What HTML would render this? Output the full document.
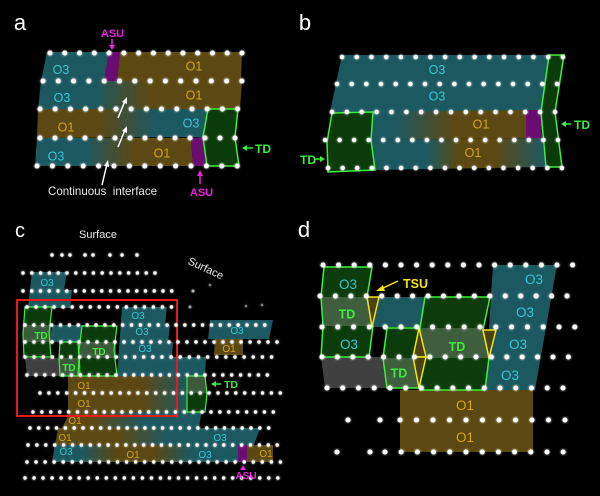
<!DOCTYPE html>
<html><head><meta charset="utf-8"><style>
html,body{margin:0;padding:0;background:#000;}
svg{display:block;}
text{font-family:"Liberation Sans",Arial,sans-serif;}
.o3{fill:#38c4d6;}
.o1{fill:#d6a31c;}
.td{fill:#3ded3d;font-weight:bold;}
.asu{fill:#f022e0;font-weight:bold;}
</style></head><body>
<svg width="600" height="496" viewBox="0 0 600 496" xmlns="http://www.w3.org/2000/svg">
<defs>
<filter id="glow" x="-20%" y="-200%" width="140%" height="500%">
<feGaussianBlur stdDeviation="1" result="b"/>
<feMerge><feMergeNode in="b"/><feMergeNode in="SourceGraphic"/></feMerge>
</filter>
<linearGradient id="ga2" gradientUnits="userSpaceOnUse" x1="95" y1="0" x2="150" y2="0"><stop offset="0" stop-color="#1c5860"/><stop offset="1" stop-color="#5c4812"/></linearGradient>
<linearGradient id="ga3" gradientUnits="userSpaceOnUse" x1="100" y1="0" x2="155" y2="0"><stop offset="0" stop-color="#5c4812"/><stop offset="1" stop-color="#1c5860"/></linearGradient>
<linearGradient id="ga4" gradientUnits="userSpaceOnUse" x1="85" y1="0" x2="135" y2="0"><stop offset="0" stop-color="#1c5860"/><stop offset="1" stop-color="#5c4812"/></linearGradient>
<linearGradient id="gb3" gradientUnits="userSpaceOnUse" x1="395" y1="0" x2="455" y2="0"><stop offset="0" stop-color="#1c5860"/><stop offset="1" stop-color="#5c4812"/></linearGradient>
<linearGradient id="gb4" gradientUnits="userSpaceOnUse" x1="375" y1="0" x2="545" y2="0"><stop offset="0" stop-color="#1c5860"/><stop offset="0.3" stop-color="#1c5860"/><stop offset="0.5" stop-color="#5c4812"/><stop offset="0.7" stop-color="#5c4812"/><stop offset="1" stop-color="#1c5860"/></linearGradient>
<linearGradient id="gco" gradientUnits="userSpaceOnUse" x1="68" y1="0" x2="200" y2="0"><stop offset="0" stop-color="#5c4812"/><stop offset="0.55" stop-color="#5c4812"/><stop offset="0.9" stop-color="#1c5860"/></linearGradient>
<linearGradient id="gc9" gradientUnits="userSpaceOnUse" x1="62" y1="0" x2="200" y2="0"><stop offset="0" stop-color="#5c4812"/><stop offset="0.2" stop-color="#5c4812"/><stop offset="0.6" stop-color="#1c5860"/></linearGradient>
<linearGradient id="gc10" gradientUnits="userSpaceOnUse" x1="55" y1="0" x2="260" y2="0"><stop offset="0" stop-color="#5c4812"/><stop offset="0.3" stop-color="#5c4812"/><stop offset="0.55" stop-color="#1c5860"/></linearGradient>
<linearGradient id="gc11" gradientUnits="userSpaceOnUse" x1="52" y1="0" x2="238" y2="0"><stop offset="0" stop-color="#1c5860"/><stop offset="0.15" stop-color="#1c5860"/><stop offset="0.35" stop-color="#5c4812"/><stop offset="0.55" stop-color="#5c4812"/><stop offset="0.75" stop-color="#1c5860"/><stop offset="1" stop-color="#1c5860"/></linearGradient>
</defs>
<rect width="600" height="496" fill="#000"/>

<!-- ============ PANEL A ============ -->
<polygon points="47,52 109,52 104,81 41,81" fill="#1c5860"/>
<polygon points="109,52 120,52 117,81 104,81" fill="#6a0c72"/>
<polygon points="120,52 242,52 241,81 117,81" fill="#5c4812"/>
<polygon points="41,81 242,81 240,109 38,109" fill="url(#ga2)"/>
<polygon points="38,109 208,109 203,137 37,138" fill="url(#ga3)"/>
<polygon points="37,138 191,138 193,166 35,166" fill="url(#ga4)"/>
<polygon points="191,138 203,137 207,166 193,166" fill="#6a0c72"/>
<polygon points="208,109 238,109 235,137 239,166 207,166 203,137" fill="#0b3b0b" stroke="#3cf03c" stroke-width="1.5"/>
<g stroke="#fff" stroke-linecap="round" stroke-width="5" fill="none" filter="url(#glow)">
<path d="M50 53 H242.5" stroke-dasharray="0 14.77"/>
<path d="M43 81 H242.4" stroke-dasharray="0 15.3"/>
<path d="M40 109 H238" stroke-dasharray="0 15.2"/>
<path d="M40 138 H235.5" stroke-dasharray="0 15"/>
<path d="M37 166 H237.5" stroke-dasharray="0 15.4"/>
</g>
<text x="20" y="30" font-size="22" fill="#fff" text-anchor="middle">a</text>
<g font-size="12.5" text-anchor="middle">
<text class="o3" x="61" y="74">O3</text>
<text class="o1" x="194" y="70.5">O1</text>
<text class="o3" x="62" y="102">O3</text>
<text class="o1" x="194" y="99.5">O1</text>
<text class="o1" x="66" y="131.5">O1</text>
<text class="o3" x="191" y="127.5">O3</text>
<text class="o3" x="56" y="160.5">O3</text>
<text class="o1" x="162" y="157.5">O1</text>
</g>
<text class="asu" x="112.5" y="37" font-size="11" text-anchor="middle">ASU</text>
<line x1="112" y1="39" x2="112" y2="46" stroke="#f022e0" stroke-width="1.5"/>
<polygon points="109,45 115,45 112,50" fill="#f022e0"/>
<text class="asu" x="201.5" y="196" font-size="11" text-anchor="middle">ASU</text>
<line x1="200" y1="184" x2="200" y2="175" stroke="#f022e0" stroke-width="1.5"/>
<polygon points="197,176 203,176 200,170" fill="#f022e0"/>
<line x1="253" y1="148" x2="246" y2="148" stroke="#3ded3d" stroke-width="1.5"/>
<polygon points="247,145 247,151 242,148" fill="#3ded3d"/>
<text class="td" x="255" y="153" font-size="12">TD</text>
<g stroke="#fff" stroke-width="1.5">
<line x1="118" y1="118" x2="125" y2="101"/>
<line x1="118" y1="147" x2="125" y2="130"/>
<line x1="102" y1="185" x2="107" y2="164"/>
</g>
<g fill="#fff">
<polygon points="127,97 122,102 127,104"/>
<polygon points="127,126 122,131 127,133"/>
<polygon points="108,160 104,166 109,167"/>
</g>
<text x="48" y="195" font-size="12" fill="#e8e8e8" textLength="109" lengthAdjust="spacingAndGlyphs" xml:space="preserve">Continuous  interface</text>

<!-- ============ PANEL B ============ -->
<polygon points="342,55 549,55 541,112 330,112" fill="#1c5860"/>
<polygon points="373,112 526,110 526,138 371,140" fill="url(#gb3)"/>
<polygon points="526,110 541,110 542,138 526,138" fill="#6a0c72"/>
<polygon points="371,140 542,138 546,167 375,170" fill="url(#gb4)"/>
<polygon points="332,113 373,112 371,140 375,170 328,172 327,142" fill="#0b3b0b" stroke="#3cf03c" stroke-width="1.5"/>
<polygon points="549,55 564,55 555,112 562,167 546,167 541,112" fill="#0b3b0b" stroke="#3cf03c" stroke-width="1.5"/>
<g stroke="#fff" stroke-linecap="round" stroke-width="4.5" fill="none" filter="url(#glow)">
<path d="M342 57 H563.5" stroke-dasharray="0 14.73"/>
<path d="M337 84 H557.5" stroke-dasharray="0 14.67"/>
<path d="M332 112 H555.5" stroke-dasharray="0 14.87"/>
<path d="M325 140 H558.5" stroke-dasharray="0 14.56"/>
<path d="M328 168 H562.5" stroke-dasharray="0 14.62"/>
</g>
<text x="305" y="30" font-size="22" fill="#fff" text-anchor="middle">b</text>
<g font-size="12.5" text-anchor="middle">
<text class="o3" x="437" y="74">O3</text>
<text class="o3" x="437" y="100.5">O3</text>
<text class="o1" x="481" y="128.5">O1</text>
<text class="o1" x="473" y="157">O1</text>
</g>
<line x1="571" y1="124" x2="565" y2="124" stroke="#3ded3d" stroke-width="1.5"/>
<polygon points="566,121 566,127 561,124" fill="#3ded3d"/>
<text class="td" x="574" y="129" font-size="12">TD</text>
<text class="td" x="300" y="164" font-size="12">TD</text>
<line x1="315" y1="159" x2="321" y2="159" stroke="#3ded3d" stroke-width="1.5"/>
<polygon points="320,156 320,162 325,159" fill="#3ded3d"/>

<!-- ============ PANEL C ============ -->
<polygon points="32,272 67,272 64,290 72,290 70,308 28,308 30,290" fill="#1c5860"/>
<polygon points="122,307 167,307 165,325 170,325 168,342 173,342 172,357 206,357 204,395 199,428 70,428 68,376 117,376" fill="#1c5860"/>
<polygon points="52,325 84,325 82,342 50,342" fill="#1c5860"/>
<polygon points="68,376 200,376 200,412 68,412" fill="url(#gco)"/>
<polygon points="70,412 200,412 198,428 62,428" fill="url(#gc9)"/>
<polygon points="58,428 260,428 254,445 55,445" fill="url(#gc10)"/>
<polygon points="55,445 238,445 238,462 52,462" fill="url(#gc11)"/>
<polygon points="238,445 247,445 247,462 238,462" fill="#6a0c72"/>
<polygon points="247,445 273,445 273,462 247,462" fill="#5c4812"/>
<polygon points="210,320 273,320 269,339 208,339" fill="#1c5860"/>
<polygon points="215,339 243,339 243,355 214,355" fill="#5c4812"/>
<polygon points="25,358 60,358 60,376 27,376" fill="#404040"/>
<!-- TDs -->
<polygon points="25,307 52,307 49,333 51,357 24,357 23,333" fill="#0b3b0b"/>
<rect x="23" y="325" width="28" height="17" fill="#3a5a3a"/>
<polygon points="25,307 52,307 49,333 51,357 24,357 23,333" fill="none" stroke="#3cf03c" stroke-width="1.2"/>
<polygon points="60,342 78,342 79,358 78,376 60,376 59,358" fill="#0b3b0b"/>
<rect x="59" y="358" width="20" height="18" fill="#3a5a3a"/>
<polygon points="60,342 78,342 79,358 78,376 60,376 59,358" fill="none" stroke="#3cf03c" stroke-width="1.2"/>
<polygon points="82,326 117,326 114,350 117,376 80,376 79,350" fill="#0b3b0b"/>
<rect x="80" y="342" width="36" height="16" fill="#3a5a3a"/>
<polygon points="82,326 117,326 114,350 117,376 80,376 79,350" fill="none" stroke="#3cf03c" stroke-width="1.2"/>
<polygon points="187,376 205,376 207,394 205,412 187,412" fill="#0b3b0b"/>
<rect x="187" y="376" width="19" height="17" fill="#3a5a3a"/>
<polygon points="187,376 205,376 207,394 205,412 187,412" fill="none" stroke="#3cf03c" stroke-width="1.2"/>
<rect x="17" y="300" width="160" height="116" fill="none" stroke="#e81818" stroke-width="2"/>
<g stroke="#fff" stroke-linecap="round" stroke-width="3.4" fill="none" filter="url(#glow)">
<path d="M23 273 H163.5" stroke-dasharray="0 8.8"/>
<path d="M23 291 H180.5" stroke-dasharray="0 8.75"/>
<path d="M27 307 H171.5" stroke-dasharray="0 9.03"/>
<path d="M25 325 H273.5" stroke-dasharray="0 8.88"/>
<path d="M25 342 H277.5" stroke-dasharray="0 9"/>
<path d="M25 357 H280.5" stroke-dasharray="0 9.13"/>
<path d="M27 375 H267.5" stroke-dasharray="0 8.9"/>
<path d="M40 393 H280.5" stroke-dasharray="0 8.9"/>
<path d="M33 412 H273.5" stroke-dasharray="0 8.9"/>
<path d="M30 428 H277.5" stroke-dasharray="0 8.84"/>
<path d="M28 445 H277.5" stroke-dasharray="0 8.9"/>
<path d="M27 462 H280.5" stroke-dasharray="0 9.05"/>
<path d="M25 478 H278.5" stroke-dasharray="0 9.03"/>
</g>
<g fill="#fff" filter="url(#glow)">
<circle cx="52" cy="255" r="1.7"/><circle cx="62" cy="255" r="1.7"/><circle cx="70" cy="255" r="1.7"/><circle cx="85" cy="255" r="1.7"/><circle cx="93" cy="255" r="1.7"/><circle cx="110" cy="255" r="1.7"/><circle cx="122" cy="255" r="1.7"/><circle cx="137" cy="255" r="1.7"/>
<circle cx="193" cy="291" r="1.5" opacity="0.6"/><circle cx="210" cy="285" r="1.3" opacity="0.4"/>
<circle cx="190" cy="307" r="1.5" opacity="0.5"/><circle cx="246" cy="306" r="1.3" opacity="0.4"/><circle cx="262" cy="305" r="1.3" opacity="0.4"/>
</g>
<text x="20" y="237" font-size="20" fill="#fff" text-anchor="middle">c</text>
<text x="98" y="238" font-size="11" fill="#e8e8e8" text-anchor="middle">Surface</text>
<text x="206" y="272" font-size="11" fill="#e8e8e8" text-anchor="middle" transform="rotate(25 206 268)">Surface</text>
<g font-size="10" text-anchor="middle">
<text class="o3" x="47" y="286">O3</text>
<text class="o3" x="138" y="319">O3</text>
<text class="o3" x="142" y="335">O3</text>
<text class="o3" x="145" y="352">O3</text>
<text class="o1" x="84" y="389">O1</text>
<text class="o1" x="84" y="407">O1</text>
<text class="o1" x="75" y="424">O1</text>
<text class="o1" x="65" y="441">O1</text>
<text class="o3" x="66" y="455">O3</text>
<text class="o1" x="133" y="458">O1</text>
<text class="o3" x="220" y="441">O3</text>
<text class="o3" x="205" y="458">O3</text>
<text class="o1" x="266" y="457">O1</text>
<text class="o3" x="237" y="334">O3</text>
<text class="o1" x="229" y="352">O1</text>
<text class="td" x="41" y="339">TD</text>
<text class="td" x="69" y="371">TD</text>
<text class="td" x="99" y="355">TD</text>
</g>
<line x1="221" y1="384" x2="215" y2="384" stroke="#3ded3d" stroke-width="1.5"/>
<polygon points="216,381 216,387 211,384" fill="#3ded3d"/>
<text class="td" x="224" y="388" font-size="10.5">TD</text>
<polygon points="240,470 246,470 243,465" fill="#f022e0"/>
<text class="asu" x="246" y="479" font-size="10" text-anchor="middle">ASU</text>

<!-- ============ PANEL D ============ -->
<polygon points="493,265 557,265 535,390 485,390" fill="#1c5860"/>
<polygon points="379,297 427,297 422,327 372,327" fill="#1c5860"/>
<polygon points="400,390 533,390 533,452 400,452" fill="#5c4812"/>
<polygon points="321,357 383,357 387,388 325,388" fill="#404040"/>
<!-- left TD -->
<polygon points="324,267 372,267 367,297 373,326 369,357 321,357 323,326 321,297" fill="#0c3c0c"/>
<polygon points="321,297 367,297 373,326 323,326" fill="#3e5e3e"/>
<polygon points="324,267 372,267 367,297 373,326 369,357 321,357 323,326 321,297" fill="none" stroke="#3cf03c" stroke-width="1.5"/>
<!-- middle small TD -->
<polygon points="387,328 420,328 420,388 387,388 383,358" fill="#0c3c0c"/>
<polygon points="383,358 420,358 420,388 387,388" fill="#3e5e3e"/>
<polygon points="387,328 420,328 420,388 387,388 383,358" fill="none" stroke="#3cf03c" stroke-width="1.5"/>
<!-- big TD -->
<polygon points="425,297 490,297 483,330 489,358 485,390 420,390 420,328" fill="#0c3c0c"/>
<polygon points="420,328 484,328 489,358 420,358" fill="#3e5e3e"/>
<polygon points="425,297 490,297 483,330 489,358 485,390 420,390 420,328" fill="none" stroke="#3cf03c" stroke-width="1.5"/>
<!-- TSU triangles -->
<g fill="#4a4210" stroke="#f5e31a" stroke-width="1.5" stroke-linejoin="round">
<polygon points="367,297 379,297 372,327"/>
<polygon points="419,328 426,357 413,357"/>
<polygon points="413,357 426,357 419,388"/>
<polygon points="483,330 496,330 489,358"/>
</g>
<g stroke="#fff" stroke-linecap="round" stroke-width="5" fill="none" filter="url(#glow)">
<path d="M323 265 H573.5" stroke-dasharray="0 15.6"/>
<path d="M320 296 H567.5" stroke-dasharray="0 15.44"/>
<path d="M322 327 H575.5" stroke-dasharray="0 15.8"/>
<path d="M322 357 H568.5" stroke-dasharray="0 15.4"/>
<path d="M327 388 H563.5" stroke-dasharray="0 15.73"/>
<path d="M400 420 H565.5" stroke-dasharray="0 16.5"/>
<path d="M385 452 H563.5" stroke-dasharray="0 16.2"/>
</g>
<g fill="#fff" filter="url(#glow)">
<circle cx="348" cy="420" r="2.5"/><circle cx="380" cy="420" r="2.5"/>
<circle cx="337" cy="452" r="2.5"/><circle cx="370" cy="452" r="2.5"/>
</g>
<text x="304" y="237" font-size="22" fill="#fff" text-anchor="middle">d</text>
<g font-size="13.5" text-anchor="middle">
<text class="o3" x="348" y="289">O3</text>
<text class="o3" x="349" y="349">O3</text>
<text class="o3" x="534" y="284">O3</text>
<text class="o3" x="525" y="317">O3</text>
<text class="o3" x="518" y="349">O3</text>
<text class="o3" x="510" y="380">O3</text>
<text class="o1" x="465" y="410">O1</text>
<text class="o1" x="465" y="442">O1</text>
<text class="td" x="347" y="318.5" font-size="12.5">TD</text>
<text class="td" x="399" y="377.5" font-size="12.5">TD</text>
<text class="td" x="457" y="351" font-size="12.5">TD</text>
</g>
<line x1="398" y1="281" x2="381" y2="289" stroke="#f5e31a" stroke-width="1.5"/>
<polygon points="376,291 383,285 385,291" fill="#f5e31a"/>
<text x="403" y="288" font-size="12.5" font-weight="bold" fill="#f5e31a">TSU</text>
</svg>
</body></html>
